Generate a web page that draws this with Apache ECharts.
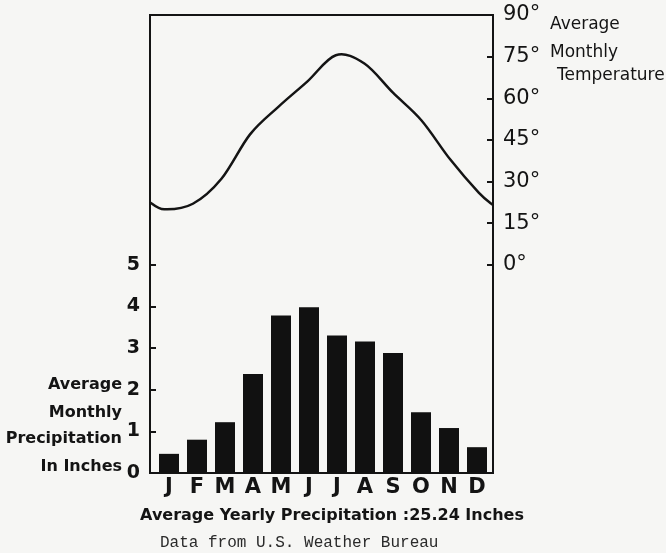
<!DOCTYPE html>
<html>
<head>
<meta charset="utf-8">
<script src="https://cdn.jsdelivr.net/npm/echarts@6/dist/echarts.min.js"></script>
<style>
  html, body { margin: 0; padding: 0; background: #f6f6f4; }
  #chart { width: 666px; height: 553px; }
</style>
</head>
<body>
<div id="chart"></div>
<script>
// ---- data ----
var months = ['J', 'F', 'M', 'A', 'M', 'J', 'J', 'A', 'S', 'O', 'N', 'D'];
var precipInches = [0.46, 0.80, 1.22, 2.38, 3.78, 3.98, 3.30, 3.16, 2.88, 1.46, 1.08, 0.62];
var tempF = [20, 22, 31, 47, 57, 66, 75.5, 72.5, 62, 52, 38, 26];
var tempAtStartEdge = 22.5;   // curve value where it meets the left frame
var tempAtEndEdge = 21.5;     // curve value where it meets the right frame
var precipTicks = [0, 1, 2, 3, 4, 5];
var tempTicks = [0, 15, 30, 45, 60, 75, 90];
var leftTitle = ['Average', 'Monthly', 'Precipitation', 'In Inches'];
var rightTitle = ['Average', 'Monthly', 'Temperature'];
var footTitle = 'Average Yearly Precipitation :25.24 Inches';
var sourceText = 'Data from U.S. Weather Bureau';

// temperature curve points: month centres on a 0..12 month axis, plus frame edges
var tempPoints = [[0, tempAtStartEdge]];
tempF.forEach(function (v, i) { tempPoints.push([i + 0.5, v]); });
tempPoints.push([months.length, tempAtEndEdge]);

var INK = '#141414';
var SANS = 'DejaVu Sans';

var chart = echarts.init(document.getElementById('chart'), null, { renderer: 'canvas' });

var graphics = [];
var leftY = [385, 413, 439, 467];
leftTitle.forEach(function (t, i) {
  graphics.push({
    type: 'text', x: 122, y: leftY[i],
    style: { text: t, fill: INK, font: 'bold 16px "' + SANS + '"', textAlign: 'right', textVerticalAlign: 'middle' }
  });
});
var rightX = [550, 550, 557];
var rightY = [25, 53, 75.5];
rightTitle.forEach(function (t, i) {
  graphics.push({
    type: 'text', x: rightX[i], y: rightY[i],
    style: { text: t, fill: INK, font: '17px "' + SANS + '"', textAlign: 'left', textVerticalAlign: 'middle' }
  });
});
graphics.push({
  type: 'text', x: 332, y: 516,
  style: { text: footTitle, fill: INK, font: 'bold 16px "' + SANS + '"', textAlign: 'center', textVerticalAlign: 'middle' }
});
graphics.push({
  type: 'text', x: 160, y: 543,
  style: { text: sourceText, fill: '#2a2a2a', font: '16px "Liberation Mono"', textAlign: 'left', textVerticalAlign: 'middle' }
});

// smooth curve through the temperature points (Catmull-Rom), positioned with the axes' own scales
function renderTempCurve(params, api) {
  if (params.dataIndex !== 0) return null;
  var p = tempPoints.map(function (d) { return api.coord(d); });
  var n = p.length;
  var path = 'M' + p[0][0] + ' ' + p[0][1];
  for (var i = 0; i < n - 1; i++) {
    var p0 = p[Math.max(i - 1, 0)], p1 = p[i], p2 = p[i + 1], p3 = p[Math.min(i + 2, n - 1)];
    var c1x = p1[0] + (p2[0] - p0[0]) / 6, c1y = p1[1] + (p2[1] - p0[1]) / 6;
    var c2x = p2[0] - (p3[0] - p1[0]) / 6, c2y = p2[1] - (p3[1] - p1[1]) / 6;
    path += ' C' + c1x + ' ' + c1y + ' ' + c2x + ' ' + c2y + ' ' + p2[0] + ' ' + p2[1];
  }
  return {
    type: 'path',
    shape: { pathData: path },
    style: { fill: null, stroke: INK, lineWidth: 2.5, lineJoin: 'round' }
  };
}

var option = {
  backgroundColor: '#f6f6f4',
  animation: false,
  grid: [
    { left: 150, right: 173, top: 15, bottom: 80, show: true, borderColor: INK, borderWidth: 2, backgroundColor: 'transparent', containLabel: false },
    { left: 155, right: 175, top: 15, bottom: 80, containLabel: false }
  ],
  xAxis: [
    { type: 'value', gridIndex: 0, min: 0, max: months.length, show: false },
    {
      type: 'category', gridIndex: 1, data: months,
      axisLine: { show: false }, axisTick: { show: false }, splitLine: { show: false },
      axisLabel: { color: INK, fontFamily: SANS, fontWeight: 'bold', fontSize: 21, margin: 4, interval: 0 }
    }
  ],
  yAxis: [
    {
      type: 'value', gridIndex: 0, position: 'left', min: 0, max: 11, interval: 1,
      axisLine: { show: true, lineStyle: { color: INK, width: 2 } },
      axisTick: { show: true, inside: true, length: 6, lineStyle: { color: INK, width: 2 }, customValues: precipTicks.slice(1) },
      axisLabel: { color: INK, fontFamily: SANS, fontWeight: 'bold', fontSize: 19, margin: 10, customValues: precipTicks },
      splitLine: { show: false }
    },
    {
      type: 'value', gridIndex: 0, position: 'right', min: -75, max: 90, interval: 15,
      axisLine: { show: true, lineStyle: { color: INK, width: 2 } },
      axisTick: { show: true, inside: true, length: 6, lineStyle: { color: INK, width: 2 }, customValues: tempTicks },
      axisLabel: { color: INK, fontFamily: SANS, fontSize: 21, margin: 10, customValues: tempTicks, formatter: function (v) { return v + '°'; } },
      splitLine: { show: false }
    },
    { type: 'value', gridIndex: 1, min: 0, max: 11, show: false }
  ],
  series: [
    {
      type: 'bar', xAxisIndex: 1, yAxisIndex: 2, data: precipInches,
      barWidth: 20, itemStyle: { color: '#111' }
    },
    {
      type: 'custom', xAxisIndex: 0, yAxisIndex: 1,
      data: [[0, 0]], renderItem: renderTempCurve, silent: true
    }
  ],
  graphic: graphics
};
chart.setOption(option);
</script>
</body>
</html>
